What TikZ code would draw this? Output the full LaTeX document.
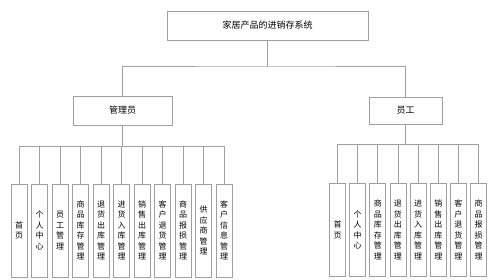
\documentclass[tikz,border=0pt]{standalone}
\usepackage{fontspec}
\setmainfont{Noto Sans CJK SC}
\XeTeXlinebreaklocale "zh"
\XeTeXlinebreakskip=0pt plus 1pt
\tikzset{
  line/.style={draw=gray!75, line width=0.8pt},
  topbox/.style={line, rectangle, minimum height=29pt, inner sep=0pt,
    font=\fontsize{9}{11}\selectfont},
  leafbox/.style={line, rectangle, minimum width=16pt, minimum height=93pt,
    inner sep=0pt, text width=8pt, align=center,
    font=\fontsize{8}{10.5}\selectfont}
}
\begin{document}
\begin{tikzpicture}[x=1pt, y=-1pt]
        \useasboundingbox (0,0) rectangle (498,279);

        % Sistema
        \node[topbox, minimum width=201pt] (sys) at (267.5,25.5) {家居产品的进销存系统};

        % Ruoli
        \node[topbox, minimum width=99pt] (adm) at (122.5,110.5) {管理员};
        \node[topbox, minimum width=73pt, minimum height=27pt] (emp) at (405.5,110.5) {员工};

        \coordinate (sysbus) at (267.5,66);
        \draw[line] (sys.south) -- (sysbus);
        \draw[line] (adm.north) |- (sysbus) -| (emp.north);

        % Moduli amministratore
        \coordinate (admbus) at (122.5,146);
        \draw[line] (adm.south) -- (admbus);
        \foreach \i/\t in {1/首页, 2/个人中心, 3/员工管理, 4/商品库存管理, 5/退货出库管理,
                           6/进货入库管理, 7/销售出库管理, 8/客户退货管理, 9/商品报损管理,
                           10/供应商管理, 11/客户信息管理} {
            \node[leafbox] (m\i) at ({19+20.5*(\i-1)},230.5) {\t};
            \draw[line] (admbus) -| (m\i.north);
        }

        % Moduli dipendente
        \coordinate (empbus) at (405.5,144);
        \draw[line] (emp.south) -- (empbus);
        \foreach \i/\t in {1/首页, 2/个人中心, 3/商品库存管理, 4/退货出库管理,
                           5/进货入库管理, 6/销售出库管理, 7/客户退货管理, 8/商品报损管理} {
            \node[leafbox] (e\i) at ({337.5+20.15*(\i-1)},230) {\t};
            \draw[line] (empbus) -| (e\i.north);
        }
\end{tikzpicture}
\end{document}
